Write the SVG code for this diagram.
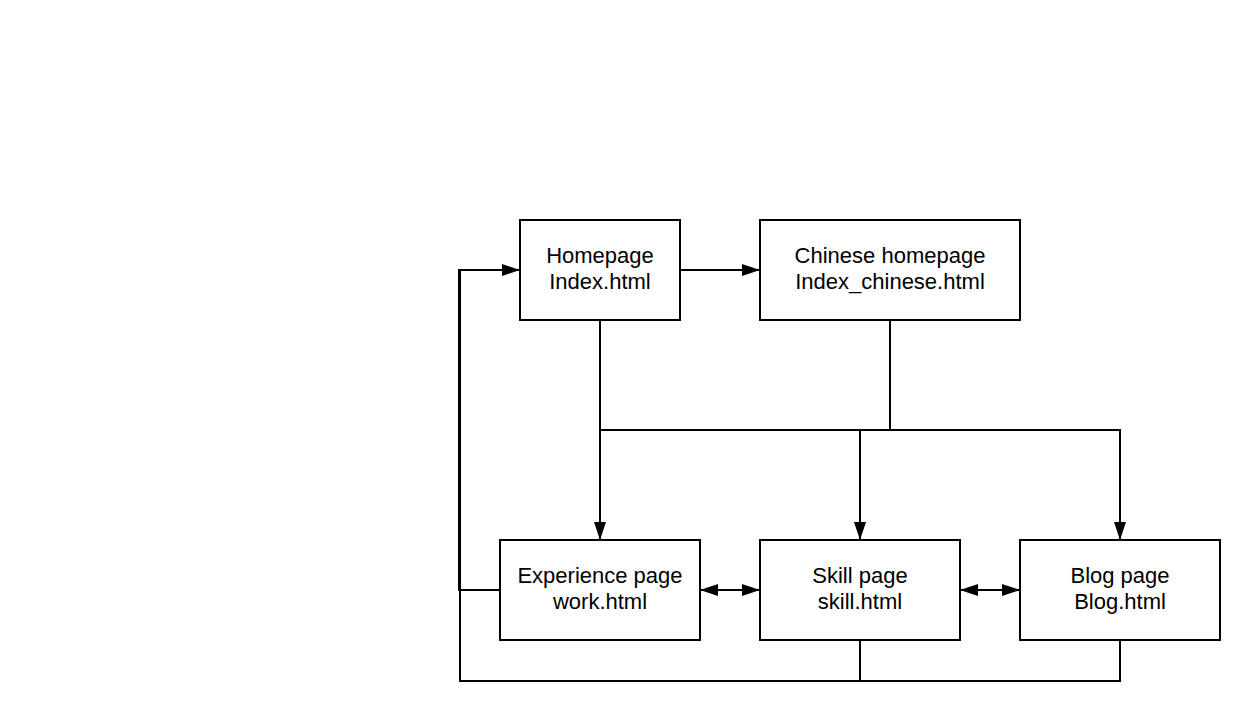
<svg xmlns="http://www.w3.org/2000/svg" width="1260" height="721" viewBox="0 0 1260 721">
<defs>
<marker id="ah" viewBox="0 0 18 12" refX="18" refY="6" markerWidth="18" markerHeight="12" markerUnits="userSpaceOnUse" orient="auto-start-reverse">
<path d="M0,0 L18,6 L0,12 Z" fill="#000"/>
</marker>
<style>
.box{fill:#fff;stroke:#000;stroke-width:2}
.lbl{font-family:"Liberation Sans",Arial,sans-serif;font-size:22px;fill:#000;text-anchor:middle}
.ln{fill:none;stroke:#000;stroke-width:2}
</style>
</defs>
<rect width="1260" height="721" fill="#fff"/>
<g id="connectors">
<path class="ln" d="M680,270 L760,270" marker-end="url(#ah)"/>
<path class="ln" d="M600,320 L600,540" marker-end="url(#ah)"/>
<path class="ln" d="M890,320 L890,430"/>
<path class="ln" d="M600,430 L1120,430 L1120,540" marker-end="url(#ah)"/>
<path class="ln" d="M860,430 L860,540" marker-end="url(#ah)"/>
<path class="ln" d="M500,590 L459,590 L459,270 L520,270" marker-end="url(#ah)"/>
<path class="ln" d="M860,640 L860,681 L460,681 L460,270"/>
<path class="ln" d="M1120,640 L1120,681 L860,681"/>
<path class="ln" d="M700,590 L760,590" marker-start="url(#ah)" marker-end="url(#ah)"/>
<path class="ln" d="M960,590 L1020,590" marker-start="url(#ah)" marker-end="url(#ah)"/>
</g>
<g id="homepage">
<rect class="box" x="520" y="220" width="160" height="100"/>
<text class="lbl" x="600" y="263">Homepage</text>
<text class="lbl" x="600" y="289">Index.html</text>
</g>
<g id="chinese">
<rect class="box" x="760" y="220" width="260" height="100"/>
<text class="lbl" x="890" y="263">Chinese homepage</text>
<text class="lbl" x="890" y="289">Index_chinese.html</text>
</g>
<g id="experience">
<rect class="box" x="500" y="540" width="200" height="100"/>
<text class="lbl" x="600" y="583">Experience page</text>
<text class="lbl" x="600" y="609">work.html</text>
</g>
<g id="skill">
<rect class="box" x="760" y="540" width="200" height="100"/>
<text class="lbl" x="860" y="583">Skill page</text>
<text class="lbl" x="860" y="609">skill.html</text>
</g>
<g id="blog">
<rect class="box" x="1020" y="540" width="200" height="100"/>
<text class="lbl" x="1120" y="583">Blog page</text>
<text class="lbl" x="1120" y="609">Blog.html</text>
</g>
</svg>
